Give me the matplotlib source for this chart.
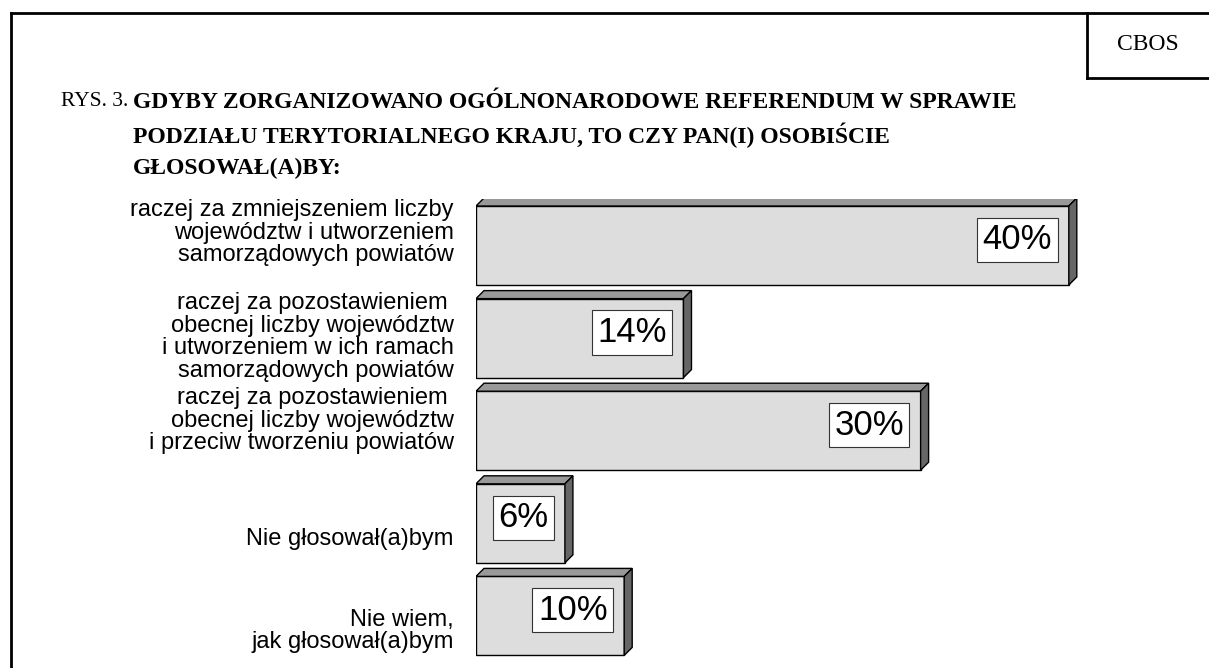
import numpy as np
import matplotlib.pyplot as plt
from matplotlib.patches import Polygon
from matplotlib.lines import Line2D

categories = [
    "raczej za zmniejszeniem liczby\nwojewództw i utworzeniem\nsamorządowych powiatów",
    "raczej za pozostawieniem \nobecnej liczby województw\ni utworzeniem w ich ramach\nsamorządowych powiatów",
    "raczej za pozostawieniem \nobecnej liczby województw\ni przeciw tworzeniu powiatów",
    "Nie głosował(a)bym",
    "Nie wiem,\njak głosował(a)bym",
]
values = [40, 14, 30, 6, 10]
value_labels = ["40%", "14%", "30%", "6%", "10%"]

title_lines = [
    "GDYBY ZORGANIZOWANO OGÓLNONARODOWE REFERENDUM W SPRAWIE",
    "PODZIAŁU TERYTORIALNEGO KRAJU, TO CZY PAN(I) OSOBIŚCIE",
    "GŁOSOWAŁ(A)BY:",
]

W, H = 1209, 668
fig = plt.figure(figsize=(W / 100, H / 100), dpi=100)
fig.patch.set_facecolor("white")

# axes: value 0 at x=476px, ~14.8 px per percent
x0, ppu = 476, 14.82
xmax = 45
pitch = 92.6
ytop = 245.5 - pitch / 2
ax = fig.add_axes([x0 / W, 1 - (ytop + 5 * pitch) / H, xmax * ppu / W, 5 * pitch / H])
ax.set_xlim(0, xmax)
ax.set_ylim(4.5, -0.5)
ax.axis("off")

bar_h = 0.853
dx = 8 / ppu
dy = 8 / pitch
ypos = np.arange(len(values))

# front faces
ax.barh(ypos, values, height=bar_h, color="#dddddd", edgecolor="black", linewidth=1.0, zorder=2)
# top and side faces for the 3D look
for y, v in zip(ypos, values):
    top = y - bar_h / 2
    bot = y + bar_h / 2
    ax.add_patch(Polygon([[0, top], [dx, top - dy], [v + dx, top - dy], [v, top]],
                         closed=True, facecolor="#999999", edgecolor="black", linewidth=1.0, zorder=2))
    ax.add_patch(Polygon([[v, top], [v + dx, top - dy], [v + dx, bot - dy], [v, bot]],
                         closed=True, facecolor="#666666", edgecolor="black", linewidth=1.0, zorder=2))

for y, v, lab in zip(ypos, values, value_labels):
    ax.annotate(lab, xy=(v, y), xytext=(-12, 4), textcoords="offset points",
                ha="right", va="center", fontsize=25, family="Liberation Sans", zorder=3,
                bbox=dict(boxstyle="square,pad=0.16", facecolor="white", edgecolor="#333333", linewidth=0.8))

# category labels, right aligned left of the bars
label_dy = [-13, -1, -10, 16, 15]
for y, lab, d in zip(ypos, categories, label_dy):
    ax.annotate(lab, xy=(0, y), xytext=(-16, -d * 0.72), textcoords="offset points",
                ha="right", va="center", fontsize=17, family="Liberation Sans",
                linespacing=1.03, multialignment="right")

# title
fig.text(61 / W, 1 - 102 / H, "RYS. 3.", fontsize=15.5, family="Liberation Serif", va="center", ha="left")
for i, line in enumerate(title_lines):
    fig.text(133 / W, 1 - (102 + 33 * i) / H, line, fontsize=17, family="Liberation Serif",
             fontweight="bold", va="center", ha="left")

fig.text(1148 / W, 1 - 45 / H, "CBOS", fontsize=17, family="Liberation Serif", va="center", ha="center")

# frame lines
lw = 2
fig.add_artist(Line2D([11 / W, 1], [1 - 13 / H, 1 - 13 / H], color="black", linewidth=lw))
fig.add_artist(Line2D([11 / W, 11 / W], [1 - 13 / H, 0], color="black", linewidth=lw))
fig.add_artist(Line2D([1087 / W, 1087 / W], [1 - 13 / H, 1 - 78 / H], color="black", linewidth=lw))
fig.add_artist(Line2D([1087 / W, 1], [1 - 78 / H, 1 - 78 / H], color="black", linewidth=lw))

fig.savefig("out.png", dpi=100)
